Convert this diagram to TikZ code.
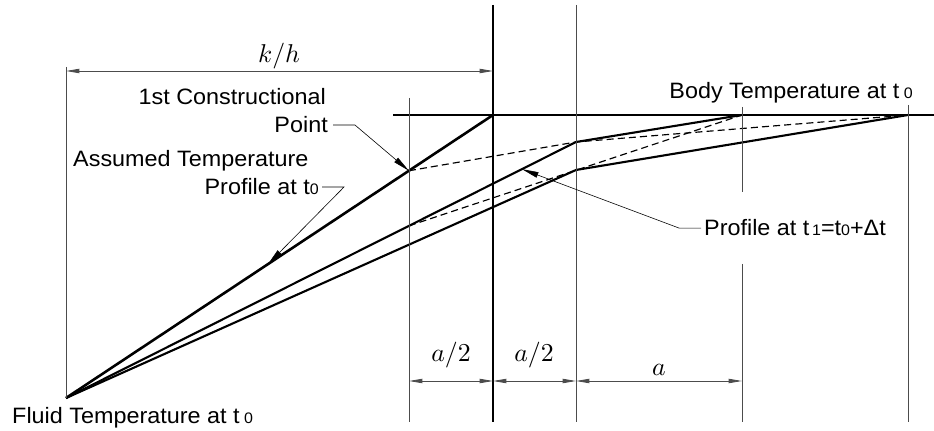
\documentclass[tikz,border=0pt]{standalone}
\usepackage{fontspec}
\setmainfont{Liberation Sans}[FakeStretch=1.05]
\usepackage{amsmath}
\usetikzlibrary{arrows.meta, positioning, calc}
\newcommand{\tsub}[1]{{\fontsize{13}{13}\selectfont #1}}

\begin{document}
\begin{tikzpicture}[
    x=0.03cm, y=-0.03cm,
    >=Stealth,
    wall/.style={line width=2.2pt},
    profile/.style={line width=1.8pt, line join=round},
    constr/.style={line width=1pt, dash pattern=on 6pt off 3.5pt},
    ext/.style={line width=0.7pt, color=black!70},
    dim/.style={ext, {Stealth[length=4mm, width=1.3mm, inset=0pt]}-{Stealth[length=4mm, width=1.3mm, inset=0pt]}},
    leader/.style={line width=0.5pt, -{Stealth[length=5mm, width=1.7mm, inset=0pt]}},
    txt/.style={font=\fontsize{19}{22}\selectfont, inner sep=0pt},
    dimtxt/.style={scale=2.2, inner sep=0pt},
]
\useasboundingbox (0,0) rectangle (934,431);

% Key points
\coordinate (F) at (66,398);
\coordinate (W) at (493,115);
\coordinate (C) at ($(F)!0.803!(W)$);
\coordinate (P1) at (576,142);
\coordinate (P2) at (576,170);
\coordinate (B1) at (742,115);
\coordinate (B0) at (908,115);
\coordinate (D) at ($(F)!0.6725!(P1)$);

% Wall and body temperature
\draw[wall] (493,5) -- (493,422);
\draw[wall] (393,115) -- (934,115);

% Profiles
\draw[wall] (F) -- (W);
\draw[profile] (F) -- (P1) -- (B1);
\draw[profile] (F) -- (P2) -- (B0);

% Constructional lines
\draw[constr] (C) -- (P1) -- (B0);
\draw[constr] (D) -- (B1);

% Extension lines
\foreach \x/\ya/\yb in {66/67/398, 409/98/422, 576/5/422, 742/107/192, 742/264/422, 908/105/422}
    \draw[ext] (\x,\ya) -- (\x,\yb);

% Dimensions
\draw[dim] (66,71) -- (493,71);
\node[dimtxt, anchor=base] (kh) at (279,63) {$k/h$};
\foreach \xa/\xb in {409/493, 493/576, 576/742}
    \draw[dim] (\xa,381) -- (\xb,381);
\node[dimtxt, anchor=base] (half1) at (451,361) {$a/2$};
\node[dimtxt, anchor=base] (half2) at (534,361) {$a/2$};
\node[dimtxt, anchor=base] (full) at (659,375) {$a$};

% Labels
\node[txt, anchor=base east] (constr1) at (326,105) {1st Constructional};
\node[txt, anchor=base east] (constr2) at (328,133) {Point};
\draw[leader] ($(constr2.east)+(5,0)$) -- ++(22,0) -- (C);

\node[txt, anchor=base west] (assumed) at (73,167) {Assumed Temperature};
\node[txt, anchor=base east] (prof0) at (319,195) {Profile at t\tsub{0}};
\coordinate (T0) at ($(F)!0.473!(W)$);
\draw[leader] ($(prof0.east)+(3,0)$) -- ++(22,0) -- (T0);

\node[txt, anchor=base west] (prof1) at (704,236) {Profile at t\hspace{0.12em}\tsub{1}=t\tsub{0}+Δt};
\coordinate (T1) at ($(F)!0.894!(P1)$);
\draw[leader] ($(prof1.west)+(-3,0)$) -- ++(-22,0) -- (T1);

\node[txt, anchor=base east] (body) at (913,99) {Body Temperature at t\hspace{0.2em}\tsub{0}};
\node[txt, anchor=base west] (fluid) at (12,423) {Fluid Temperature at t\hspace{0.2em}\tsub{0}};

\end{tikzpicture}
\end{document}
